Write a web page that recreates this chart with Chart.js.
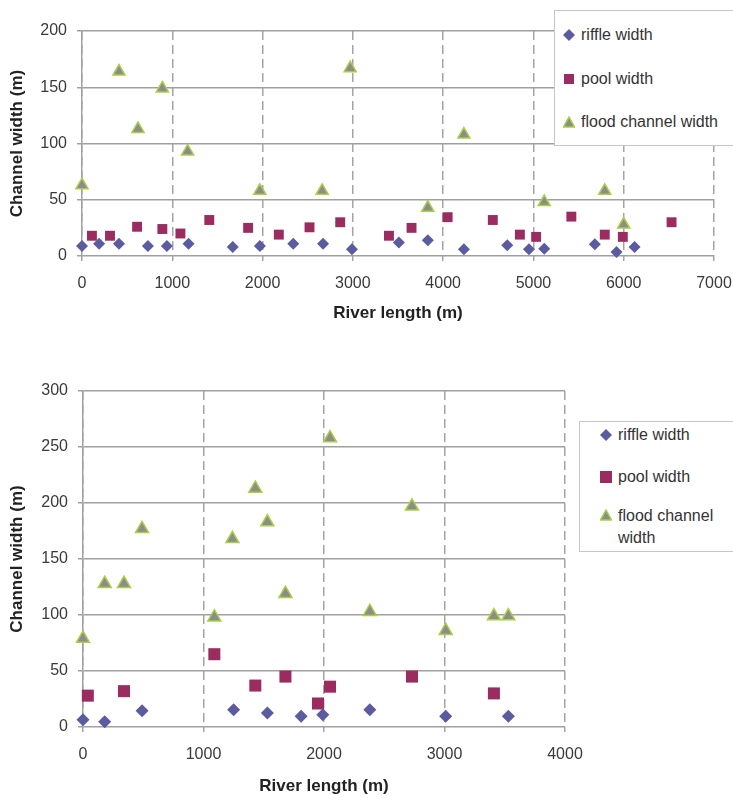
<!DOCTYPE html>
<html>
<head>
<meta charset="utf-8">
<script src="https://cdn.jsdelivr.net/npm/chart.js@4.4.1/dist/chart.umd.min.js"></script>
<style>
    body { margin: 0; background: #fff; overflow: hidden; font-family: "Liberation Sans", Arial, sans-serif; }
    #wrap { position: relative; width: 733px; height: 798px; }
    canvas { position: absolute; left: 0; }
    #chartTop { top: 0; }
    #chartBottom { top: 360px; }
    .legenda { position: absolute; background: #fff; border: 1.5px solid #c4c4d8; font-size: 16px; color: #333; }
    .item { position: absolute; white-space: nowrap; line-height: 20px; }
    .item svg { position: absolute; }
</style>
</head>
<body>
<div id="wrap">
    <canvas id="chartTop" width="733" height="336"></canvas>
    <canvas id="chartBottom" width="733" height="447"></canvas>

    <div class="legenda" style="left:554px; top:10px; width:200px; height:134px;">
        <div class="item" style="left:8px; top:14px;">
            <svg width="12" height="12" style="left:0; top:4px;"><polygon points="6,0 12,6 6,12 0,6" fill="#5b5b9f"/></svg>
            <span style="margin-left:18px;">riffle width</span>
        </div>
        <div class="item" style="left:8px; top:58px;">
            <svg width="12" height="12" style="left:0; top:4px;"><rect x="1" y="1" width="10" height="10" fill="#9b2c5f"/></svg>
            <span style="margin-left:18px;">pool width</span>
        </div>
        <div class="item" style="left:8px; top:101px;">
            <svg width="12" height="12" style="left:0; top:4px;"><polygon points="6,1 11.5,11 0.5,11" fill="#8c8c8c" stroke="#a8cf45" stroke-width="1.5"/></svg>
            <span style="margin-left:18px;">flood channel width</span>
        </div>
    </div>

    <div class="legenda" style="left:579px; top:421px; width:180px; height:129px;">
        <div class="item" style="left:20px; top:3px;">
            <svg width="12" height="12" style="left:0; top:4px;"><polygon points="6,0 12,6 6,12 0,6" fill="#5b5b9f"/></svg>
            <span style="margin-left:18px;">riffle width</span>
        </div>
        <div class="item" style="left:20px; top:45px;">
            <svg width="12" height="12" style="left:0; top:4px;"><rect x="0" y="0" width="12" height="12" fill="#9b2c5f"/></svg>
            <span style="margin-left:18px;">pool width</span>
        </div>
        <div class="item" style="left:20px; top:83px;">
            <svg width="12" height="12" style="left:0; top:4px;"><polygon points="6,1 11.5,11 0.5,11" fill="#8c8c8c" stroke="#a8cf45" stroke-width="1.5"/></svg>
            <span style="margin-left:18px; display:inline-block; line-height:22px;">flood channel<br>width</span>
        </div>
    </div>
</div>

<script>
// grafico de cima (0 - 7000 m)
const riffle1X = [0, 190, 410, 730, 940, 1180, 1670, 1970, 2340, 2670, 2990, 3510, 3830, 4230, 4710, 4950, 5120, 5680, 5920, 6120];
const riffle1Y = [9, 11, 11, 9, 9, 11, 8, 9, 11, 11, 6, 12, 14, 6, 9.5, 6, 6.5, 10.5, 3.5, 8];
const pool1X = [110, 310, 610, 890, 1090, 1410, 1840, 2180, 2520, 2860, 3400, 3650, 4050, 4550, 4850, 5030, 5420, 5790, 5990, 6530];
const pool1Y = [18, 18, 26, 24, 20, 32, 25, 19, 25.5, 30, 18, 25, 34.5, 32, 19, 17, 35, 19, 17, 30];
const flood1X = [0, 410, 620, 890, 1170, 1970, 2660, 2970, 3830, 4230, 5120, 5790, 6000];
const flood1Y = [63, 164, 113, 149, 93, 58, 58, 167, 43, 108, 48, 58, 28];

// grafico de baixo (0 - 4000 m)
const riffle2X = [0, 180, 490, 1250, 1530, 1810, 1990, 2380, 3010, 3530];
const riffle2Y = [6.5, 4.7, 14.5, 15.4, 12.5, 9.5, 11, 15.4, 9.5, 9.5];
const pool2X = [40, 340, 1090, 1430, 1680, 1950, 2050, 2730, 3410];
const pool2Y = [28, 32, 65, 37, 45, 21, 36, 45, 30];
const flood2X = [0, 180, 340, 490, 1090, 1240, 1430, 1530, 1680, 2050, 2380, 2730, 3010, 3410, 3530];
const flood2Y = [79, 128, 128, 177, 98, 168, 213, 183, 119, 258, 103, 197, 86, 99, 99];

const nomes = ['riffle width', 'pool width', 'flood channel width'];

const fonte = '"Liberation Sans", Arial, sans-serif';

function pontos(xs, ys) {
    return xs.map((x, i) => ({ x: x, y: ys[i] }));
}

function montarGrafico(id, series, xMax, yMax, tam, layout, tituloPadX) {
    const ctx = document.getElementById(id).getContext('2d');
    return new Chart(ctx, {
        type: 'scatter',
        data: {
            datasets: [
                {
                    label: nomes[0],
                    data: pontos(series[0][0], series[0][1]),
                    pointStyle: 'rectRot',
                    pointRadius: tam[0],
                    backgroundColor: '#5b5b9f',
                    borderColor: '#5b5b9f',
                    borderWidth: 0,
                    clip: false
                },
                {
                    label: nomes[1],
                    data: pontos(series[1][0], series[1][1]),
                    pointStyle: 'rect',
                    pointRadius: tam[1],
                    backgroundColor: '#9b2c5f',
                    borderColor: '#9b2c5f',
                    borderWidth: 0,
                    clip: false
                },
                {
                    label: nomes[2],
                    data: pontos(series[2][0], series[2][1]),
                    pointStyle: 'triangle',
                    pointRadius: tam[2],
                    backgroundColor: '#8c8c8c',
                    borderColor: '#a8cf45',
                    borderWidth: 1.5,
                    clip: false
                }
            ]
        },
        options: {
            responsive: false,
            animation: false,
            layout: { padding: layout },
            plugins: {
                legend: { display: false },
                tooltip: { enabled: false }
            },
            scales: {
                x: {
                    type: 'linear',
                    min: 0,
                    max: xMax,
                    afterFit: s => {
                        s.height = 80;
                        // o espaco lateral ja vem do padding do layout
                        s.paddingLeft = 0;
                        s.paddingRight = 0;
                    },
                    ticks: {
                        stepSize: 1000,
                        padding: 13,
                        color: '#3a3a3a',
                        font: { family: fonte, size: 16 },
                        callback: valor => valor.toString()
                    },
                    grid: {
                        color: '#a4a4a4',
                        lineWidth: 1.5,
                        tickLength: 5,
                        tickBorderDash: [],
                        borderDash: [9, 5]
                    },
                    border: { display: false, dash: [9, 5] },
                    title: {
                        display: true,
                        text: 'River length (m)',
                        color: '#222',
                        font: { family: fonte, size: 17, weight: 'bold' },
                        padding: { top: 0, bottom: tituloPadX }
                    }
                },
                y: {
                    min: 0,
                    max: yMax,
                    afterFit: s => { s.width = layout.yWidth; },
                    ticks: {
                        stepSize: 50,
                        padding: 10,
                        color: '#3a3a3a',
                        font: { family: fonte, size: 16 },
                        callback: valor => valor.toString()
                    },
                    grid: {
                        color: '#a0a0a0',
                        lineWidth: 1.5,
                        tickLength: 5
                    },
                    border: { color: '#a0a0a0', width: 1.5 },
                    title: {
                        display: true,
                        text: 'Channel width (m)',
                        color: '#222',
                        font: { family: fonte, size: 17, weight: 'bold' },
                        padding: { top: 7, bottom: 0 }
                    }
                }
            }
        }
    });
}

montarGrafico('chartTop',
    [[riffle1X, riffle1Y], [pool1X, pool1Y], [flood1X, flood1Y]],
    7000, 200, [6, 7, 7],
    { left: 0, top: 31, right: 19, bottom: 0, yWidth: 82 }, 12);

montarGrafico('chartBottom',
    [[riffle2X, riffle2Y], [pool2X, pool2Y], [flood2X, flood2Y]],
    4000, 300, [6.5, 8.5, 7.5],
    { left: 0, top: 31, right: 168, bottom: 0, yWidth: 83 }, 10);
</script>
</body>
</html>
